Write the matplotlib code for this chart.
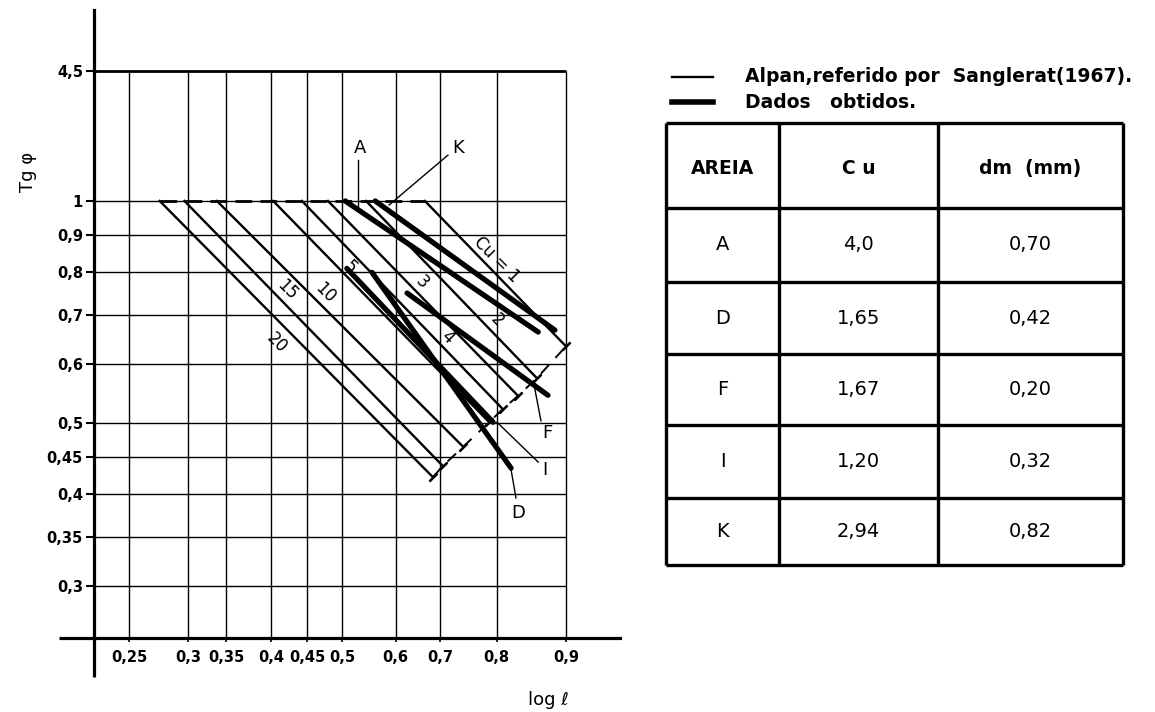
import numpy as np
import matplotlib
matplotlib.use("Agg")
import matplotlib.pyplot as plt
from matplotlib.lines import Line2D

# ---------------- data ----------------
x_ticks = [0.25, 0.3, 0.35, 0.4, 0.45, 0.5, 0.6, 0.7, 0.8, 0.9]
x_ticklabels = ['0,25', '0,3', '0,35', '0,4', '0,45', '0,5', '0,6', '0,7', '0,8', '0,9']
y_ticks = [1.5, 1, 0.9, 0.8, 0.7, 0.6, 0.5, 0.45, 0.4, 0.35, 0.3]
y_ticklabels = ['4,5', '1', '0,9', '0,8', '0,7', '0,6', '0,5', '0,45', '0,4', '0,35', '0,3']

# Alpan lines (thin), one per Cu
alpan_cu = ['20', '15', '10', '5', '4', '3', '2', '1']
alpan_x_start = [0.276, 0.297, 0.338, 0.403, 0.443, 0.480, 0.545, 0.666]
alpan_y_start = [1.0, 1.0, 1.0, 1.0, 1.0, 1.0, 1.0, 1.0]
alpan_x_end = [0.684, 0.705, 0.741, 0.787, 0.809, 0.831, 0.858, 0.900]
alpan_y_end = [0.422, 0.437, 0.464, 0.501, 0.522, 0.544, 0.575, 0.635]

# Dados obtidos (thick)
dados_areia = ['A', 'K', 'F', 'D', 'I']
dados_x_start = [0.506, 0.562, 0.626, 0.556, 0.509]
dados_y_start = [1.0, 1.0, 0.750, 0.800, 0.810]
dados_x_end = [0.860, 0.884, 0.874, 0.821, 0.794]
dados_y_end = [0.664, 0.668, 0.545, 0.434, 0.501]

# table
table_header = ['AREIA', 'C u', 'dm  (mm)']
table_areia = ['A', 'D', 'F', 'I', 'K']
table_cu = ['4,0', '1,65', '1,67', '1,20', '2,94']
table_dm = ['0,70', '0,42', '0,20', '0,32', '0,82']

# ---------------- scale (hand-drawn, irregular x graduation) ----------------
_scale_vals = np.array([0.0] + x_ticks + [1.2])
_scale_pos = np.array([-166.0, 129, 188, 226, 271, 307, 342, 395.5, 440, 496.5, 566, 774.5])


def fwd(v):
    return np.interp(v, _scale_vals, _scale_pos)


def inv(p):
    return np.interp(p, _scale_pos, _scale_vals)


W, H = 1155, 712
fig = plt.figure(figsize=(W / 100, H / 100), dpi=100)
plt.rcParams['font.family'] = ['DejaVu Sans']


def fx(px):
    return px / W


def fy(py):
    return 1 - py / H


ax = fig.add_axes([fx(94), fy(638), (620 - 94) / W, (638 - 10) / H])
ax.set_xscale('function', functions=(fwd, inv))
ax.set_yscale('log')
xlim = (0.2203, 0.9777)
ylim = (0.2553, 1.816)
ax.set_xlim(*xlim)
ax.set_ylim(*ylim)

for s in ['top', 'right']:
    ax.spines[s].set_visible(False)
for s in ['left', 'bottom']:
    ax.spines[s].set_linewidth(2.3)
# axis extensions beyond the crossing point
ax.plot([-35 / 526, 0], [0, 0], transform=ax.transAxes, color='k', lw=2.3,
        clip_on=False, solid_capstyle='butt')
ax.plot([0, 0], [-39 / 628, 0], transform=ax.transAxes, color='k', lw=2.3,
        clip_on=False, solid_capstyle='butt')

ax.set_xticks(x_ticks)
ax.set_xticklabels(x_ticklabels)
ax.set_yticks(y_ticks)
ax.set_yticklabels(y_ticklabels)
ax.minorticks_off()
ax.tick_params(axis='x', length=3, width=1.2, pad=6, labelsize=10.5)
ax.tick_params(axis='y', length=6, width=1.5, pad=2, labelsize=10.5)
for t in ax.get_xticklabels() + ax.get_yticklabels():
    t.set_fontweight('bold')

# grid limited to the graduated box
ax.hlines(y_ticks[1:], xlim[0], x_ticks[-1], color='k', lw=1.0, zorder=1)
ax.hlines([y_ticks[0]], xlim[0], x_ticks[-1], color='k', lw=2.0, zorder=1)
ax.vlines(x_ticks, ylim[0], y_ticks[0], color='k', lw=1.0, zorder=1)

# dashed line along tg = 1 between first and last Alpan line
ax.plot([min(alpan_x_start), max(alpan_x_start)], [1, 1], color='k', lw=2.0,
        ls=(0, (6, 3)), zorder=2)
# dashed line joining the lower ends
ax.plot(alpan_x_end, alpan_y_end, color='k', lw=1.4, ls=(0, (6, 5)), zorder=2)

# Alpan lines
for xs, ys, xe, ye in zip(alpan_x_start, alpan_y_start, alpan_x_end, alpan_y_end):
    ax.plot([xs, xe], [ys, ye], color='k', lw=1.7, zorder=3)
ax.plot(alpan_x_end, alpan_y_end, ls='none', marker=(2, 2, -45), ms=8,
        mew=1.6, color='k', zorder=3)

# Dados obtidos
for xs, ys, xe, ye in zip(dados_x_start, dados_y_start, dados_x_end, dados_y_end):
    ax.plot([xs, xe], [ys, ye], color='k', lw=3.8, solid_capstyle='round', zorder=4)

# Cu labels along the Alpan lines
cu_label_pos = [(0.4083, 0.642), (0.4222, 0.757), (0.4757, 0.750), (0.515, 0.8136),
                (0.7124, 0.654), (0.6596, 0.7764), (0.8007, 0.6897), (0.8007, 0.8318)]
for lab, (tx, ty) in zip(alpan_cu, cu_label_pos):
    txt = 'Cu = 1' if lab == '1' else lab
    ax.text(tx, ty, txt, rotation=-45, ha='center', va='center', fontsize=12,
            zorder=5)

# letter labels with leaders
leaders = {
    'A': ((0.5336, 1.18), (0.530, 1.137), (0.530, 0.978)),
    'K': ((0.732, 1.18), (0.714, 1.154), (0.588, 0.9876)),
    'F': ((0.873, 0.484), (0.864, 0.503), (0.854, 0.563)),
    'I': ((0.870, 0.4315), (0.860, 0.4423), (0.8007, 0.501)),
    'D': ((0.831, 0.3773), (0.828, 0.3954), (0.821, 0.4315)),
}
for lab, ((tx, ty), (l0x, l0y), (l1x, l1y)) in leaders.items():
    ax.text(tx, ty, lab, ha='center', va='center', fontsize=13, zorder=5)
    ax.plot([l0x, l1x], [l0y, l1y], color='k', lw=1.0, zorder=5)

# axis titles
fig.text(fx(28), fy(172), 'Tg φ', rotation=90, ha='center', va='center', fontsize=13)
fig.text(fx(548), fy(700), 'log ℓ', ha='center', va='center', fontsize=13)

# legend
fig.add_artist(Line2D([fx(672), fx(713)], [fy(77), fy(77)], color='k', lw=1.7))
fig.add_artist(Line2D([fx(672), fx(713)], [fy(102), fy(102)], color='k', lw=4.0))
fig.text(fx(745), fy(77), 'Alpan,referido por  Sanglerat(1967).', ha='left',
         va='center', fontsize=13.5, fontweight='bold')
fig.text(fx(745), fy(102), 'Dados   obtidos.', ha='left', va='center',
         fontsize=13.5, fontweight='bold')

# table
tax = fig.add_axes([fx(666), fy(565), (1123 - 666) / W, (565 - 123) / H])
tax.set_xlim(0, 457)
tax.set_ylim(442, 0)
tax.axis('off')
col_edges = [0, 113, 272, 457]
row_edges = [0, 85, 159, 231, 302, 375, 442]
tax.hlines(row_edges, 0, 457, color='k', lw=2.4, clip_on=False)
tax.vlines(col_edges, 0, 442, color='k', lw=2.4, clip_on=False)
col_c = [(col_edges[i] + col_edges[i + 1]) / 2 for i in range(3)]
row_c = [(row_edges[i] + row_edges[i + 1]) / 2 for i in range(6)]
for j, h in enumerate(table_header):
    tax.text(col_c[j], row_c[0] + 3, h, ha='center', va='center', fontsize=13.5,
             fontweight='bold')
for i, (a, c, d) in enumerate(zip(table_areia, table_cu, table_dm)):
    for j, v in enumerate((a, c, d)):
        tax.text(col_c[j], row_c[i + 1], v, ha='center', va='center', fontsize=14)

fig.savefig('out.png', dpi=100)
